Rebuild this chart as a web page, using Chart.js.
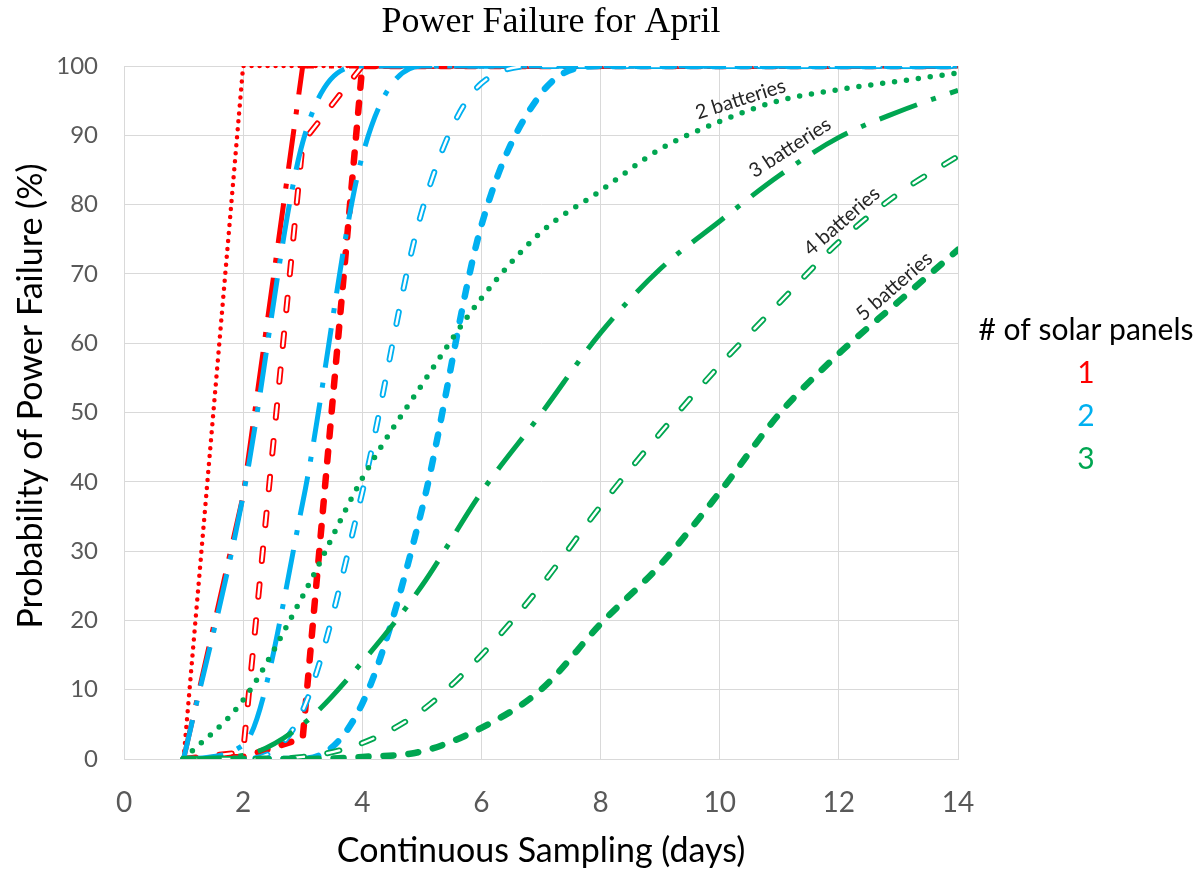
<!DOCTYPE html>
<html>
<head>
<meta charset="utf-8">
<title>Power Failure for April</title>
<script src="https://cdn.jsdelivr.net/npm/chart.js@4/dist/chart.umd.min.js"></script>
<style>
  html, body { margin: 0; padding: 0; background: #fff; }
  #wrap { width: 1203px; height: 871px; }
</style>
</head>
<body>
<div id="wrap"><canvas id="powerChart" width="1203" height="871"></canvas></div>
<script>
// Probability of power failure (%) by day of continuous sampling
const days = [1, 2, 3, 4, 5, 6, 7, 8, 9, 10, 11, 12, 13, 14];

// 1 solar panel
const red2 = [0, 100, 100, 100, 100, 100, 100, 100, 100, 100, 100, 100, 100, 100];
const red3 = [0, 38, 100, 100, 100, 100, 100, 100, 100, 100, 100, 100, 100, 100];
const red4 = [0, 1, 89, 100, 100, 100, 100, 100, 100, 100, 100, 100, 100, 100];
const red5 = [0, 0.3, 3, 100, 100, 100, 100, 100, 100, 100, 100, 100, 100, 100];

// 2 solar panels
const blue2 = [0, 38, 89, 100, 100, 100, 100, 100, 100, 100, 100, 100, 100, 100];
const blue3 = [0, 2, 37, 87, 100, 100, 100, 100, 100, 100, 100, 100, 100, 100];
const blue4 = [0, 0, 7, 38.5, 79, 97.5, 100, 100, 100, 100, 100, 100, 100, 100];
const blue5 = [0, 0, 0, 8, 36, 77, 96, 100, 100, 100, 100, 100, 100, 100];

// 3 solar panels
const green2 = [0, 8.5, 23.5, 40.5, 54, 66.5, 76, 82, 88, 92, 95, 96.6, 97.8, 99];
const green3 = [0, 0.5, 5, 14, 25, 38.5, 49.8, 61.5, 70.7, 77.6, 84.2, 89.7, 93.4, 96.5];
const green4 = [0, 0, 0.3, 2.3, 7, 15, 25, 36.5, 47, 56.8, 65.8, 74.6, 81.6, 87];
const green5 = [0, 0, 0, 0.3, 1.1, 4.5, 10, 19.5, 28, 38.5, 49.8, 58.5, 66, 73.5];

const xTickValues = [0, 2, 4, 6, 8, 10, 12, 14];
const yTickValues = [0, 10, 20, 30, 40, 50, 60, 70, 80, 90, 100];

const panelLabels = ['1', '2', '3'];
const panelColors = ['#ff0000', '#00b0f0', '#00a651'];

const chartTitle = 'Power Failure for April';
const xTitle = 'Continuous Sampling (days)';
const yTitle = 'Probability of Power Failure (%)';
const legendTitle = '# of solar panels';

// curve labels, placed in data units along the green curves
const batteryNotes = [
  { text: '2 batteries', x: 10.35, y: 95.2, angle: 17.5 },
  { text: '3 batteries', x: 11.18, y: 88.2, angle: 33 },
  { text: '4 batteries', x: 12.05, y: 77.6, angle: 41 },
  { text: '5 batteries', x: 12.93, y: 68.2, angle: 41 }
];

const series = [
  { name: '1 panel, 2 batteries', data: red2, panel: 0, kind: 'dot', width: 4.5, gap: 8, smooth: false },
  { name: '1 panel, 3 batteries', data: red3, panel: 0, kind: 'dashdot', smooth: false },
  { name: '1 panel, 4 batteries', data: red4, panel: 0, kind: 'hollow', smooth: false },
  { name: '1 panel, 5 batteries', data: red5, panel: 0, kind: 'dash', smooth: false },
  { name: '2 panels, 2 batteries', data: blue2, panel: 1, kind: 'dashdot', smooth: true },
  { name: '2 panels, 3 batteries', data: blue3, panel: 1, kind: 'dashdot', smooth: true },
  { name: '2 panels, 4 batteries', data: blue4, panel: 1, kind: 'hollow', smooth: true },
  { name: '2 panels, 5 batteries', data: blue5, panel: 1, kind: 'dash', smooth: true },
  { name: '3 panels, 2 batteries', data: green2, panel: 2, kind: 'dot', width: 5.5, gap: 12, smooth: true },
  { name: '3 panels, 3 batteries', data: green3, panel: 2, kind: 'dashdot', smooth: true },
  { name: '3 panels, 4 batteries', data: green4, panel: 2, kind: 'hollow', smooth: true },
  { name: '3 panels, 5 batteries', data: green5, panel: 2, kind: 'dash', smooth: true }
];

function buildDatasets() {
  const out = [];
  series.forEach((s, i) => {
    const color = panelColors[s.panel];
    const points = days.map((d, k) => ({ x: d, y: s.data[k] }));
    // later series sit on top (lower order = drawn last)
    const order = (series.length - i) * 2;
    const base = {
      label: s.name,
      data: points,
      borderColor: color,
      backgroundColor: color,
      pointRadius: 0,
      pointHoverRadius: 0,
      fill: false,
      tension: 0,
      cubicInterpolationMode: s.smooth ? 'monotone' : 'default',
      order
    };
    if (s.kind === 'dot') {
      out.push({ ...base, borderWidth: s.width, borderDash: [0, s.gap], borderCapStyle: 'round' });
    } else if (s.kind === 'dashdot') {
      out.push({ ...base, borderWidth: 5, borderDash: [40, 15, 5, 15], borderCapStyle: 'butt' });
    } else if (s.kind === 'dash') {
      out.push({ ...base, borderWidth: 6.5, borderDash: [10, 15], borderCapStyle: 'round' });
    } else if (s.kind === 'hollow') {
      out.push({ ...base, borderWidth: 6, borderDash: [12.5, 23.5], borderCapStyle: 'round' });
      out.push({ ...base, label: s.name + ' (inner)', borderColor: '#ffffff', borderWidth: 2.4,
        borderDash: [12.5, 23.5], borderCapStyle: 'round', order: order - 1 });
    }
  });
  return out;
}

const textPlugin = {
  id: 'chartText',
  afterDraw(chart) {
    const { ctx, scales: { x, y } } = chart;
    ctx.save();
    ctx.textAlign = 'center';
    ctx.textBaseline = 'middle';

    ctx.fillStyle = '#000';
    ctx.font = '36px "Liberation Serif", "Times New Roman", serif';
    ctx.fillText(chartTitle, 551, 23);

    // y axis title
    ctx.save();
    ctx.font = '34px Lato, "Noto Sans", sans-serif';
    ctx.translate(31, 396);
    ctx.rotate(-Math.PI / 2);
    ctx.fillText(yTitle, 0, 0);
    ctx.restore();

    ctx.font = '30px Lato, "Noto Sans", sans-serif';
    ctx.fillStyle = '#000';
    ctx.fillText(legendTitle, 1086, 330);
    panelLabels.forEach((p, i) => {
      ctx.fillStyle = panelColors[i];
      ctx.fillText(p, 1086, 373 + i * 43);
    });

    ctx.font = '20px Lato, "Noto Sans", sans-serif';
    ctx.fillStyle = '#262626';
    batteryNotes.forEach(n => {
      ctx.save();
      ctx.translate(x.getPixelForValue(n.x), y.getPixelForValue(n.y));
      ctx.rotate(-n.angle * Math.PI / 180);
      ctx.fillText(n.text, 0, 0);
      ctx.restore();
    });
    ctx.restore();
  }
};

const ctx = document.getElementById('powerChart');
new Chart(ctx, {
  type: 'line',
  data: { datasets: buildDatasets() },
  options: {
    responsive: false,
    animation: false,
    devicePixelRatio: 1,
    layout: { padding: { top: 66, right: 245, bottom: 0, left: 0 } },
    plugins: {
      legend: { display: false },
      title: { display: false },
      tooltip: { enabled: false }
    },
    scales: {
      x: {
        type: 'linear',
        min: 0,
        max: 14,
        afterBuildTicks: (scale) => { scale.ticks = xTickValues.map(v => ({ value: v })); },
        afterFit: (scale) => { scale.height = 112; },
        grid: { color: '#d9d9d9', lineWidth: 1, drawTicks: false },
        border: { color: '#d9d9d9' },
        ticks: {
          color: '#595959',
          font: { family: 'Lato', size: 28 },
          padding: 27,
          maxRotation: 0
        },
        title: {
          display: true,
          text: xTitle,
          color: '#000',
          font: { family: 'Lato', size: 34 },
          padding: { top: 0, bottom: 0 }
        }
      },
      y: {
        min: 0,
        max: 100,
        afterBuildTicks: (scale) => { scale.ticks = yTickValues.map(v => ({ value: v })); },
        afterFit: (scale) => { scale.width = 124; },
        grid: { color: '#d9d9d9', lineWidth: 1, drawTicks: false },
        border: { color: '#d9d9d9' },
        ticks: {
          color: '#595959',
          font: { family: 'Lato', size: 24 },
          padding: 26
        },
        title: { display: false }
      }
    }
  },
  plugins: [textPlugin]
});
</script>
</body>
</html>
